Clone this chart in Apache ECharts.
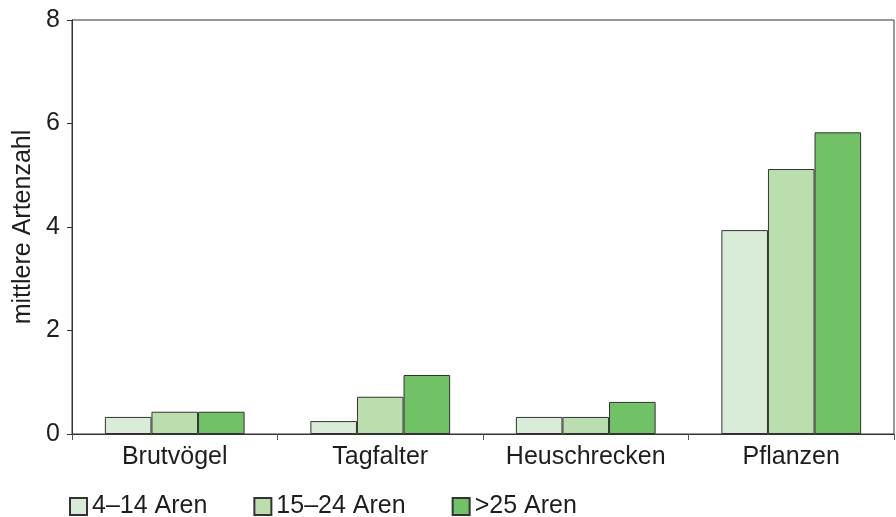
<!DOCTYPE html>
<html>
<head>
<meta charset="utf-8">
<script src="https://cdn.jsdelivr.net/npm/echarts@6/dist/echarts.min.js"></script>
<style>
  html, body { margin: 0; padding: 0; background: #fff; }
  #chart { width: 896px; height: 517px; }
</style>
</head>
<body>
<div id="chart"></div>
<script>
// Artengruppen und mittlere Artenzahl je Flächengröße
const categories = ['Brutvögel', 'Tagfalter', 'Heuschrecken', 'Pflanzen'];
const seriesNames = ['4–14 Aren', '15–24 Aren', '>25 Aren'];
const small  = [0.33, 0.25, 0.33, 3.94];
const medium = [0.43, 0.72, 0.33, 5.12];
const large  = [0.43, 1.14, 0.62, 5.83];
const yTicks = { min: 0, max: 8, interval: 2 };

const colors = ['#d9ecd7', '#badeae', '#71c267'];
const font = 'Liberation Sans, Arial, Helvetica, sans-serif';
const textColor = '#1e1e1e';
const fontSize = 25;

const chart = echarts.init(document.getElementById('chart'), null, { renderer: 'canvas' });

const valueSets = [small, medium, large];

chart.setOption({
  animation: false,
  textStyle: { fontFamily: font },
  grid: {
    left: 72, right: 2, top: 20, bottom: 83,
    show: true, borderColor: '#333', borderWidth: 1, backgroundColor: 'transparent'
  },
  legend: {
    left: 64, top: 489,
    itemWidth: 17, itemHeight: 17, itemGap: 46,
    icon: 'rect',
    textStyle: { fontSize: fontSize, color: textColor, fontFamily: font },
    data: seriesNames
  },
  xAxis: {
    type: 'category',
    data: categories,
    axisLine: { lineStyle: { color: '#333', width: 1 } },
    axisTick: { show: true, interval: 0, length: 6, alignWithLabel: false, lineStyle: { color: '#555' } },
    axisLabel: { interval: 0, hideOverlap: false, fontSize: fontSize, color: textColor, margin: 11, fontFamily: font }
  },
  yAxis: {
    type: 'value',
    min: yTicks.min, max: yTicks.max, interval: yTicks.interval,
    name: 'mittlere Artenzahl',
    nameLocation: 'middle',
    nameGap: 36,
    nameTextStyle: { fontSize: fontSize, color: textColor, fontFamily: font },
    axisLine: { show: true, lineStyle: { color: '#333', width: 1 } },
    axisTick: { show: true, length: 5, lineStyle: { color: '#333' } },
    axisLabel: { fontSize: fontSize, color: textColor, margin: 12, fontFamily: font },
    splitLine: { show: false }
  },
  series: seriesNames.map((name, i) => ({
    name,
    type: 'bar',
    data: valueSets[i],
    barGap: '0%',
    barCategoryGap: '32%',
    itemStyle: { color: colors[i], borderColor: '#333', borderWidth: 1 }
  }))
});
</script>
</body>
</html>
